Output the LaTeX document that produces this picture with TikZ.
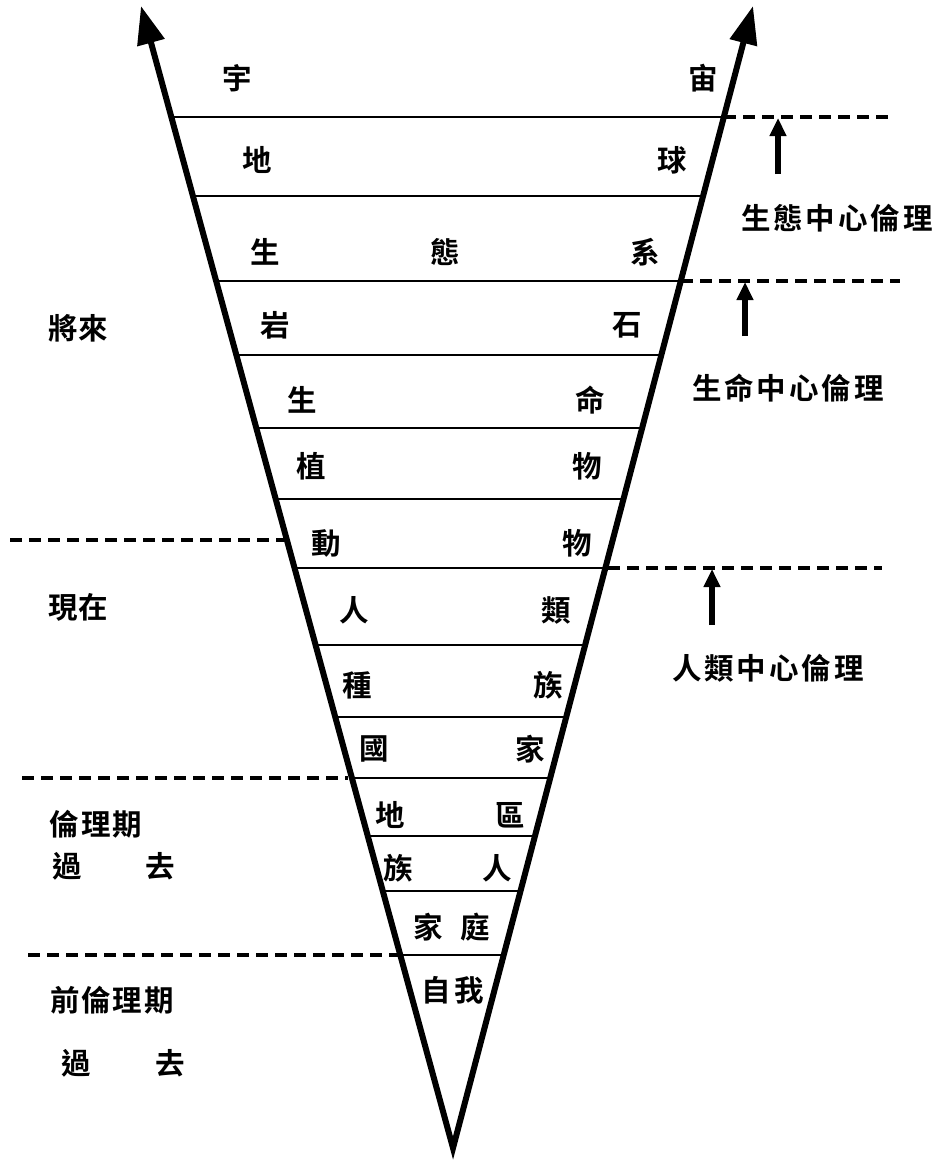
\documentclass[tikz,border=0pt]{standalone}
\usepackage{fontspec}
\usetikzlibrary{arrows.meta}
\newfontfamily\cjk{Noto Sans CJK TC Bold}
\newcommand\gap{\hspace{3pt}}
\newcommand\sgap{\hspace{2pt}}
\begin{document}
\begin{tikzpicture}[x=1pt,y=-1pt,
  cjkl/.style={font=\cjk\fontsize{29.5}{29.5}\selectfont, inner sep=0pt},
  mainline/.style={line width=6pt, line join=miter, {Triangle[length=38pt,width=27pt]}-{Triangle[length=38pt,width=27pt]}},
  rowline/.style={line width=2pt},
  sepline/.style={line width=4pt, dash pattern=on 12pt off 7pt},
  uparrow/.style={line width=5.5pt, -{Triangle[length=18pt,width=16pt]}}]
\useasboundingbox (0,0) rectangle (940,1162);
\coordinate (apex) at (453,1148);
\coordinate (tipL) at (141,6);
\coordinate (tipR) at (753,6);
% rows
\foreach \y in {117,196,281,355,428,499,568,645,717,778,836,891,955}{
  \draw[rowline] ({453-0.2732*(1148-\y)},\y) -- ({453+0.2627*(1148-\y)},\y);
}
% dashed separators
\coordinate (r1a) at (724,117); \coordinate (r1b) at (890,117);
\coordinate (r2a) at (681,281); \coordinate (r2b) at (900,281);
\coordinate (r3a) at (608,568); \coordinate (r3b) at (882,568);
\coordinate (l1a) at (10,540);  \coordinate (l1b) at (287,540);
\coordinate (l2a) at (22,778);  \coordinate (l2b) at (348,778);
\coordinate (l3a) at (28,955);  \coordinate (l3b) at (400,955);
\foreach \a/\b in {r1a/r1b,r2a/r2b,r3a/r3b,l1a/l1b,l2a/l2b,l3a/l3b}
  \draw[sepline] (\a) -- (\b);
% main V
\draw[mainline] (tipL) -- (apex) -- (tipR);
% up arrows
\coordinate (u1s) at (778,174); \coordinate (u1e) at (778,118);
\coordinate (u2s) at (745,336); \coordinate (u2e) at (745,282);
\coordinate (u3s) at (712,625); \coordinate (u3e) at (712,569);
\draw[uparrow] (u1s) -- (u1e);
\draw[uparrow] (u2s) -- (u2e);
\draw[uparrow] (u3s) -- (u3e);
% right labels
\node[cjkl] (eco) at (837,218) {生\gap 態\gap 中\gap 心\gap 倫\gap 理};
\node[cjkl] (bio) at (788,388) {生\gap 命\gap 中\gap 心\gap 倫\gap 理};
\node[cjkl] (hum) at (768,668) {人\gap 類\gap 中\gap 心\gap 倫\gap 理};
% left labels
\node[cjkl] (fut) at (78,328) {將來};
\node[cjkl] (now) at (78,607) {現在};
\node[cjkl] (eth) at (96,824) {倫\sgap 理\sgap 期};
\node[cjkl] (pa1) at (67,866) {過};
\node[cjkl] (pb1) at (160,866) {去};
\node[cjkl] (pre) at (112,1000) {前\sgap 倫\sgap 理\sgap 期};
\node[cjkl] (pa2) at (76,1063) {過};
\node[cjkl] (pb2) at (170,1063) {去};
% inner labels
\node[cjkl] (c1a) at (237,78) {宇};  \node[cjkl] (c1b) at (703,78) {宙};
\node[cjkl] (c2a) at (257,160) {地}; \node[cjkl] (c2b) at (672,160) {球};
\node[cjkl] (c3a) at (265,252) {生}; \node[cjkl] (c3m) at (445,252) {態}; \node[cjkl] (c3b) at (645,252) {系};
\node[cjkl] (c4a) at (275,325) {岩}; \node[cjkl] (c4b) at (627,325) {石};
\node[cjkl] (c5a) at (302,400) {生}; \node[cjkl] (c5b) at (590,400) {命};
\node[cjkl] (c6a) at (311,466) {植}; \node[cjkl] (c6b) at (587,466) {物};
\node[cjkl] (c7a) at (326,543) {動}; \node[cjkl] (c7b) at (577,543) {物};
\node[cjkl] (c8a) at (354,610) {人}; \node[cjkl] (c8b) at (556,610) {類};
\node[cjkl] (c9a) at (357,685) {種}; \node[cjkl] (c9b) at (548,685) {族};
\node[cjkl] (c10a) at (374,749) {國}; \node[cjkl] (c10b) at (530,749) {家};
\node[cjkl] (c11a) at (390,815) {地}; \node[cjkl] (c11b) at (510,815) {區};
\node[cjkl] (c12a) at (398,868) {族}; \node[cjkl] (c12b) at (497,868) {人};
\node[cjkl] (c13) at (452,927) {家\hspace{18pt}庭};
\node[cjkl] (c14) at (453,990) {自\hspace{4pt}我};
\end{tikzpicture}
\end{document}
